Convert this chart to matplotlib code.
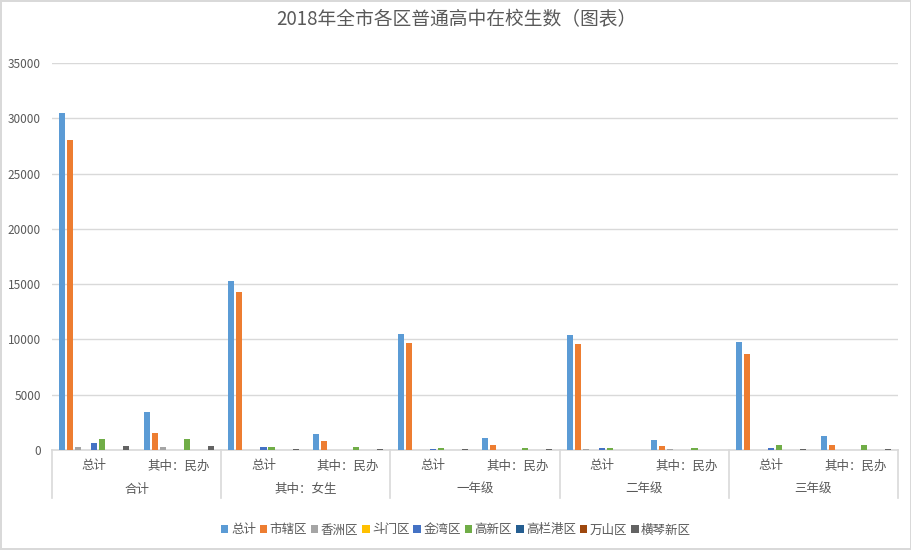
import numpy as np
import matplotlib
matplotlib.use('Agg')
import matplotlib.pyplot as plt
from matplotlib.transforms import blended_transform_factory

plt.rcParams['font.family'] = ['Noto Sans CJK SC', 'DejaVu Sans']

# categories (outer group, inner label)
outer_labels = ['合计', '其中：女生', '一年级', '二年级', '三年级']
inner_labels = ['总计', '其中：民办']

series_names = ['总计', '市辖区', '香洲区', '斗门区', '金湾区', '高新区', '高栏港区', '万山区', '横琴新区']
colors = ['#5B9BD5', '#ED7D31', '#A5A5A5', '#FFC000', '#4472C4', '#70AD47', '#255E91', '#9E480E', '#636363']

total = [30500, 3450, 15250, 1450, 10480, 1090, 10400, 910, 9730, 1270]
city = [28000, 1550, 14250, 820, 9660, 450, 9570, 360, 8660, 450]
xiangzhou = [270, 270, 0, 0, 0, 0, 90, 90, 0, 0]
doumen = [0, 0, 0, 0, 0, 0, 0, 0, 0, 0]
jinwan = [630, 0, 270, 0, 90, 0, 180, 0, 180, 0]
gaoxin = [1000, 1000, 270, 270, 180, 180, 180, 180, 450, 450]
gaolangang = [0, 0, 0, 0, 0, 0, 0, 0, 0, 0]
wanshan = [0, 0, 0, 0, 0, 0, 0, 0, 0, 0]
hengqin = [360, 360, 90, 90, 90, 90, 0, 0, 90, 90]

series = [total, city, xiangzhou, doumen, jinwan, gaoxin, gaolangang, wanshan, hengqin]

text_color = '#595959'
grid_color = '#D9D9D9'

fig = plt.figure(figsize=(9.12, 5.5), dpi=100)
fig.patch.set_edgecolor(grid_color)
fig.patch.set_linewidth(1.5)

W, H = 912, 550
ax = fig.add_axes([52 / W, (H - 450) / H, (898 - 52) / W, (450 - 63) / H])

n_cat = len(total)
x = np.arange(n_cat)
step = 0.0946
bw = 0.071
for j, (vals, c, name) in enumerate(zip(series, colors, series_names)):
    ax.bar(x + (j - 4) * step, vals, width=bw, color=c, label=name, zorder=3)

ax.set_xlim(-0.5, n_cat - 0.5)
ax.set_ylim(0, 35000)
ax.set_yticks(np.arange(0, 35001, 5000))
ax.tick_params(axis='y', length=0, labelsize=8.5, labelcolor=text_color, pad=8)
ax.set_xticks([])
ax.grid(axis='y', color=grid_color, linewidth=1, zorder=0)
for s in ['top', 'right', 'left']:
    ax.spines[s].set_visible(False)
ax.spines['bottom'].set_color(grid_color)
ax.spines['bottom'].set_linewidth(1.2)

# multi-level category axis
trans = blended_transform_factory(ax.transData, ax.transAxes)
ph = 450 - 63
for b in np.arange(-0.5, n_cat, 2):
    ax.plot([b, b], [0, -(498 - 450) / ph], transform=trans, color=grid_color,
            linewidth=1.2, clip_on=False)
for i in range(n_cat):
    ax.text(i, -(466 - 450) / ph, inner_labels[i % 2], transform=trans, ha='center',
            va='center', fontsize=9, color=text_color)
for k, lab in enumerate(outer_labels):
    ax.text(2 * k + 0.5, -(489 - 450) / ph, lab, transform=trans, ha='center',
            va='center', fontsize=9, color=text_color)

fig.text(0.5, 1 - 20 / H, '2018年全市各区普通高中在校生数（图表）', ha='center', va='center',
         fontsize=13.5, color=text_color)

leg = fig.legend(loc='center', bbox_to_anchor=(0.5, 20 / H), ncol=9, frameon=False,
                 fontsize=9, handlelength=0.6, handleheight=0.6, handletextpad=0.2,
                 columnspacing=0.3)
for t in leg.get_texts():
    t.set_color(text_color)

fig.savefig('out.png', dpi=100)
